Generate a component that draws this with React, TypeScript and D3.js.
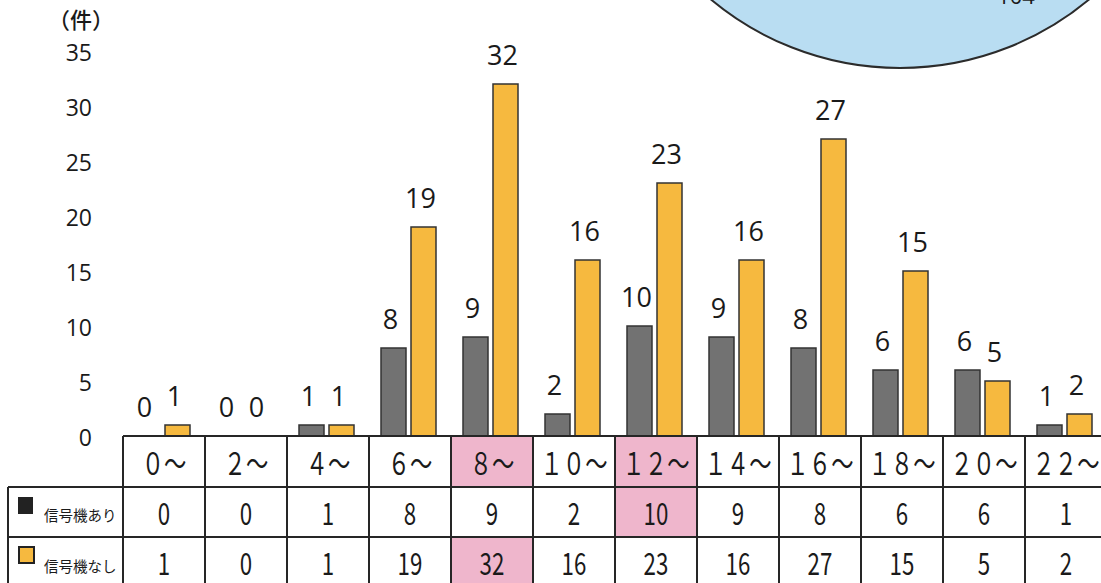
import React from 'react';
import * as d3 from 'd3';

// hour bands (時間帯)
const categories = ['０～', '２～', '４～', '６～', '８～', '１０～', '１２～', '１４～', '１６～', '１８～', '２０～', '２２～'];
const withSignal = [0, 0, 1, 8, 9, 2, 10, 9, 8, 6, 6, 1];
const withoutSignal = [1, 0, 1, 19, 32, 16, 23, 16, 27, 15, 5, 2];
const yTicks = [0, 5, 10, 15, 20, 25, 30, 35];
const seriesNames = ['信号機あり', '信号機なし'];
const highlightHeader = ['８～', '１２～'];
const highlightWith = ['１２～'];
const highlightWithout = ['８～'];
const pieTotal = '104';

const W = 1101;
const H = 583;
const GRAY = '#727272';
const YELLOW = '#f6b93f';
const PINK = '#efb6cc';
const LINE = '#262626';
const NUM_FONT = '"Open Sans", "Noto Sans", sans-serif';
const JP_FONT = '"Noto Sans CJK JP", sans-serif';

export default function App() {
    const tableLeft = 123;
    const colW = 82;
    const x0 = d3.scaleBand<string>()
        .domain(categories)
        .range([tableLeft, tableLeft + colW * categories.length])
        .padding(0);
    const x1 = d3.scaleBand<string>()
        .domain(['with', 'without'])
        .range([12, 67])
        .paddingInner(1 / 6);
    const y = d3.scaleLinear().domain([0, 35]).range([436, 51]);

    const rowTop = [436, 487, 537, 590];
    const tableRight = x0.range()[1];

    const series = [
        { key: 'with', values: withSignal, color: GRAY },
        { key: 'without', values: withoutSignal, color: YELLOW },
    ];

    const narrow = (cx: number, cy: number, text: string, size: number, key: string) => (
        <text
            key={key}
            transform={`translate(${cx},${cy}) scale(0.72,1)`}
            textAnchor="middle"
            dominantBaseline="central"
            fontFamily={JP_FONT}
            fontSize={size}
            fill="#1a1a1a"
        >
            {text}
        </text>
    );

    return (
        <svg
            width={W}
            height={H}
            style={{ position: 'absolute', left: 0, top: 0, background: '#fff' }}
        >
            {/* pie chart peeking in from the top */}
            <circle cx={900} cy={-227} r={295} fill="#b9ddf2" stroke="#2b2b2b" strokeWidth={2} />
            <text x={1016} y={4} textAnchor="middle" fontFamily={NUM_FONT} fontSize={22} fill="#1a1a1a">
                {pieTotal}
            </text>

            {/* y axis labels */}
            <text x={81} y={28} textAnchor="middle" fontFamily={JP_FONT} fontSize={22} fontWeight={500} fill="#1a1a1a">（件）</text>
            {yTicks.map(t => (
                <text
                    key={t}
                    x={92}
                    y={y(t) + 1}
                    textAnchor="end"
                    dominantBaseline="central"
                    fontFamily={NUM_FONT}
                    fontSize={23}
                    fill="#1a1a1a"
                >
                    {t}
                </text>
            ))}

            {/* bars */}
            {series.map(s => (
                <g key={s.key}>
                    {categories.map((c, i) => {
                        const v = s.values[i];
                        const bx = (x0(c) ?? 0) + (x1(s.key) ?? 0);
                        const bw = x1.bandwidth();
                        return (
                            <g key={c}>
                                {v > 0 && (
                                    <rect
                                        x={bx}
                                        y={y(v)}
                                        width={bw}
                                        height={y(0) - y(v)}
                                        fill={s.color}
                                        stroke="#333"
                                        strokeWidth={1.5}
                                    />
                                )}
                                <text
                                    x={bx + bw / 2 - 3}
                                    y={y(v) - 19}
                                    textAnchor="middle"
                                    fontFamily={NUM_FONT}
                                    fontSize={27}
                                    fill="#1a1a1a"
                                >
                                    {v}
                                </text>
                            </g>
                        );
                    })}
                </g>
            ))}

            {/* table: highlighted cells */}
            {categories.map(c => (
                <g key={'hl' + c}>
                    {highlightHeader.includes(c) && (
                        <rect x={x0(c)} y={rowTop[0]} width={colW} height={rowTop[1] - rowTop[0]} fill={PINK} />
                    )}
                    {highlightWith.includes(c) && (
                        <rect x={x0(c)} y={rowTop[1]} width={colW} height={rowTop[2] - rowTop[1]} fill={PINK} />
                    )}
                    {highlightWithout.includes(c) && (
                        <rect x={x0(c)} y={rowTop[2]} width={colW} height={rowTop[3] - rowTop[2]} fill={PINK} />
                    )}
                </g>
            ))}

            {/* table grid */}
            <g stroke={LINE} strokeWidth={2} fill="none">
                <line x1={tableLeft} x2={tableRight} y1={rowTop[0]} y2={rowTop[0]} />
                <line x1={8} x2={tableRight} y1={rowTop[1]} y2={rowTop[1]} />
                <line x1={8} x2={tableRight} y1={rowTop[2]} y2={rowTop[2]} />
                <line x1={8} x2={8} y1={rowTop[1]} y2={rowTop[3]} />
                {categories.map(c => (
                    <line key={'v' + c} x1={x0(c)} x2={x0(c)} y1={rowTop[0]} y2={rowTop[3]} />
                ))}
                <line x1={tableRight} x2={tableRight} y1={rowTop[0]} y2={rowTop[3]} />
            </g>

            {/* legend column */}
            <rect x={18} y={497} width={15} height={17} fill="#222" />
            <rect x={19} y={547} width={15} height={16} fill={YELLOW} stroke="#222" strokeWidth={2} />
            {seriesNames.map((n, i) => (
                <text
                    key={n}
                    x={44}
                    y={(rowTop[i + 1] + rowTop[i + 2]) / 2 + 2}
                    dominantBaseline="central"
                    fontFamily={JP_FONT}
                    fontSize={14.5}
                    fill="#1a1a1a"
                >
                    {n}
                </text>
            ))}

            {/* table text */}
            {categories.map((c, i) => {
                const cx = (x0(c) ?? 0) + colW / 2;
                return (
                    <g key={'t' + c}>
                        {narrow(cx, (rowTop[0] + rowTop[1]) / 2, c, 31, 'h')}
                        {narrow(cx, (rowTop[1] + rowTop[2]) / 2, String(withSignal[i]), 31, 'a')}
                        {narrow(cx, (rowTop[2] + rowTop[3]) / 2 - 2, String(withoutSignal[i]), 31, 'b')}
                    </g>
                );
            })}
        </svg>
    );
}
